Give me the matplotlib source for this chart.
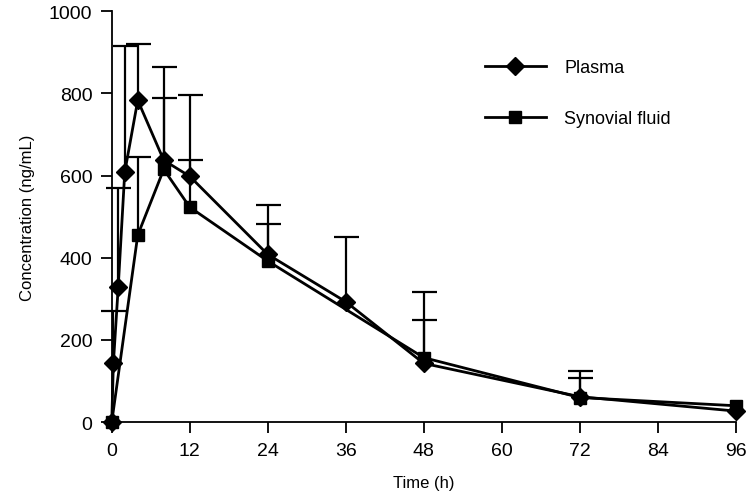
import numpy as np
import matplotlib.pyplot as plt

plt.rcParams['font.family'] = ['Liberation Sans', 'DejaVu Sans']

plasma_t = [0, 0.25, 1, 2, 4, 8, 12, 24, 36, 48, 72, 96]
plasma_c = [0, 143, 330, 608, 783, 637, 598, 408, 293, 143, 62, 27]
plasma_up = [0, 270, 569, 916, 921, 865, 796, 528, 451, 317, 125, 27]

syn_t = [0, 4, 8, 12, 24, 48, 72, 96]
syn_c = [0, 455, 615, 523, 392, 157, 60, 40]
syn_up = [0, 645, 789, 637, 481, 248, 107, 40]

fig = plt.figure(figsize=(7.5, 5.02), dpi=100)
ax = fig.add_axes([0.149, 0.157, 0.832, 0.819])

# upper-only error bars
for t, c, up in [(plasma_t, plasma_c, plasma_up), (syn_t, syn_c, syn_up)]:
    c = np.array(c)
    t = np.array(t)
    err = np.array(up) - c
    keep = err > 0
    eb = ax.errorbar(t[keep], c[keep], yerr=[np.zeros(keep.sum()), err[keep]],
                     fmt='none', ecolor='black', elinewidth=1.6, capsize=9,
                     capthick=1.6, clip_on=False)
    eb[1][0].set_visible(False)

ax.plot(plasma_t, plasma_c, color='black', lw=2, marker='D', ms=9,
        label='Plasma', clip_on=False, zorder=3)
ax.plot(syn_t, syn_c, color='black', lw=2, marker='s', ms=9,
        label='Synovial fluid', clip_on=False, zorder=3)

ax.set_xlim(0, 96)
ax.set_ylim(0, 1000)
ax.set_xticks(np.arange(0, 97, 12))
ax.set_yticks(np.arange(0, 1001, 200))
ax.spines['top'].set_visible(False)
ax.spines['right'].set_visible(False)
ax.spines['left'].set_linewidth(1.3)
ax.spines['bottom'].set_linewidth(1.3)
ax.tick_params(direction='out', length=8, width=1.3, labelsize=14, pad=6)
ax.set_xlabel('Time (h)', fontsize=12, labelpad=12)
ax.set_ylabel('Concentration (ng/mL)', fontsize=12, labelpad=10)

ax.legend(loc='upper left', bbox_to_anchor=(0.583, 0.905), frameon=False,
          borderpad=0, handlelength=3.4, labelspacing=1.9, handletextpad=1.0,
          prop={'size': 13})

plt.savefig('out.png', dpi=100)
